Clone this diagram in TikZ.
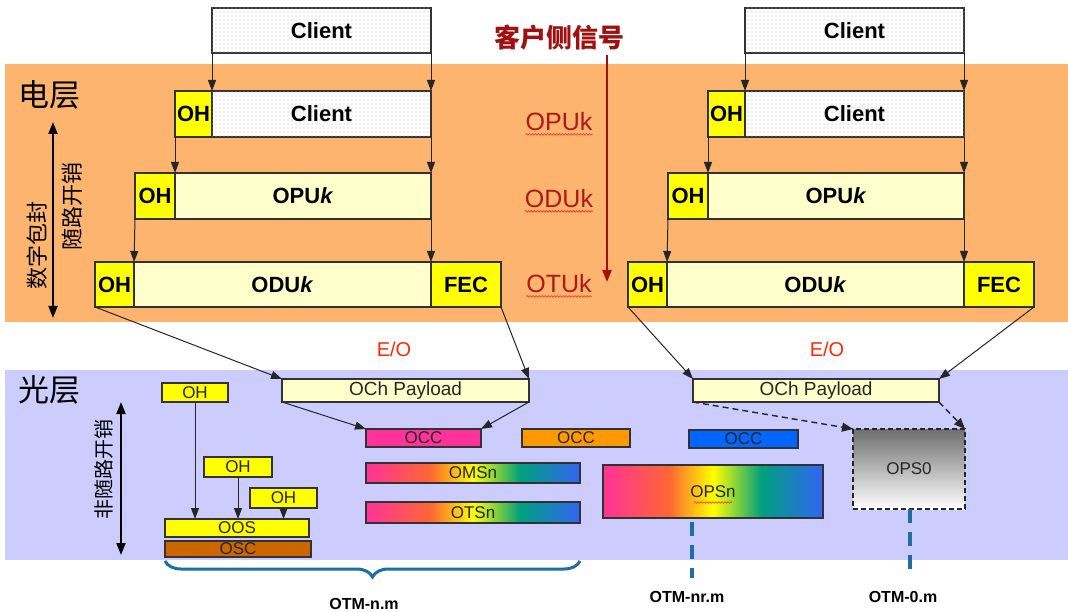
\documentclass[tikz,border=0pt]{standalone}
\usepackage{fontspec}
\setmainfont{Liberation Sans}
\newfontfamily\cjk{Noto Sans CJK SC}
\usetikzlibrary{arrows.meta,patterns,decorations.pathmorphing,decorations.pathreplacing}

\definecolor{elband}{RGB}{253,180,110}
\definecolor{opband}{RGB}{204,204,255}
\definecolor{pale}{RGB}{255,255,204}
\definecolor{ohy}{RGB}{255,255,0}
\definecolor{sigred}{RGB}{160,16,16}
\definecolor{lblred}{RGB}{176,24,24}
\definecolor{eored}{RGB}{255,40,10}
\definecolor{occpink}{RGB}{255,51,153}
\definecolor{occorange}{RGB}{255,153,0}
\definecolor{occblue}{RGB}{0,102,255}
\definecolor{oscbrown}{RGB}{204,102,0}
\definecolor{otmblue}{RGB}{30,110,165}
\definecolor{edge}{RGB}{50,50,50}
\definecolor{rbA}{RGB}{255,51,153}
\definecolor{rbB}{RGB}{255,102,51}
\definecolor{rbC}{RGB}{255,255,0}
\definecolor{rbD}{RGB}{0,160,125}
\definecolor{rbE}{RGB}{50,100,245}

% spectrum fill used by the multiplexed sections
\pgfdeclarehorizontalshading{rainbow}{100bp}{color(0bp)=(rbA); color(25bp)=(rbA);
  color(40bp)=(rbB); color(50bp)=(rbC); color(61bp)=(rbD); color(75bp)=(rbE); color(100bp)=(rbE)}

% sparse dot screen for client data
\pgfdeclarepatternformonly{sparsedots}{\pgfqpoint{-1pt}{-1pt}}{\pgfqpoint{1pt}{1pt}}{\pgfqpoint{4pt}{4pt}}%
  {\pgfpathcircle{\pgfqpoint{0pt}{0pt}}{0.55pt}\pgfusepath{fill}}

% box given by its top-left and bottom-right corners (in px, y downwards)
\newcommand\segbox[6][]{\node[box,#1,anchor=north west,minimum width={#5-#3},minimum height={#6-#4}] (#2) at (#3,#4)}

\tikzset{
  box/.style={draw=edge, line width=1.2pt, inner sep=0pt, outer sep=0pt,
    font=\bfseries\fontsize{22}{24}\selectfont},
  ohfill/.style={fill=ohy},
  palefill/.style={fill=pale},
  client/.style={fill=white, postaction={pattern=sparsedots, pattern color=gray!55}},
  small/.style={font=\fontsize{17}{19}\selectfont, text=black!85},
  pay/.style={palefill, font=\fontsize{19}{21}\selectfont, text=black!85},
  arr/.style={draw=black!85, line width=1pt, -{Triangle[length=11pt,width=8pt]}},
  darr/.style={draw=black!85, line width=1.4pt, dash pattern=on 6pt off 4pt,
    -{Triangle[length=11pt,width=9pt]}},
  dbl/.style={draw=black, line width=2pt, {Triangle[length=12pt,width=9pt]}-{Triangle[length=12pt,width=9pt]}},
  layer/.style={font=\cjk\fontsize{31}{33}\selectfont},
  sidelbl/.style={font=\cjk\fontsize{22}{24}\selectfont, rotate=90},
  redlbl/.style={font=\fontsize{25}{27}\selectfont, text=lblred, inner sep=0pt},
  wavy/.style={draw=red!85, line width=0.6pt, decorate,
    decoration={snake, amplitude=0.8pt, segment length=3pt}},
  eo/.style={font=\fontsize{20}{22}\selectfont, text=eored},
  otm/.style={font=\bfseries\fontsize{16}{18}\selectfont},
  otmline/.style={draw=otmblue, line width=3.5pt, dash pattern=on 14pt off 9pt}
}

\begin{document}
\begin{tikzpicture}[x=1pt,y=-1pt]
\useasboundingbox (0,0) rectangle (1068,612);

% layer bands
\fill[elband] (5,64) rectangle (1068,322);
\fill[opband] (5,370) rectangle (1068,560);

\node[layer] (ellayer) at (50,95) {电层};
\node[layer] (oplayer) at (50,390) {光层};

% digital wrapper: overhead builds up from client to OTUk
\coordinate (elt) at (53,122);
\coordinate (elb) at (53,318);
\draw[dbl] (elt) -- (elb);
\node[sidelbl] (wrap) at (37,246) {数字包封};
\node[sidelbl] (assoc) at (72,207) {随路开销};

\foreach \s/\dx in {L/0,R/533}{
  \begin{scope}[xshift=\dx]
    \segbox[client]{top\s}{212}{8}{431}{53}{Client};
    \segbox[ohfill]{oha\s}{175}{91}{212}{137}{OH};
    \segbox[client]{cli\s}{212}{91}{431}{137}{Client};
    \segbox[ohfill]{ohb\s}{135}{173}{175}{219}{OH};
    \segbox[palefill]{opu\s}{175}{173}{431}{219}{OPU\textit{k}};
    \segbox[ohfill]{ohc\s}{95}{262}{134}{307}{OH};
    \segbox[palefill]{odu\s}{134}{262}{431}{307}{ODU\textit{k}};
    \segbox[ohfill]{fec\s}{431}{262}{501}{307}{FEC};
    \draw[arr] (top\s.south west) -- (cli\s.north west);
    \draw[arr] (top\s.south east) -- (cli\s.north east);
    \draw[arr] (oha\s.south west) -- (opu\s.north west);
    \draw[arr] (cli\s.south east) -- (opu\s.north east);
    \draw[arr] (ohb\s.south west) -- (odu\s.north west);
    \draw[arr] (opu\s.south east) -- (odu\s.north east);
  \end{scope}
}

% client signal direction
\node[font=\cjk\bfseries\fontsize{26}{28}\selectfont, text=sigred] (sig) at (559,38) {客户侧信号};
\coordinate (sigtop) at (607,55);
\coordinate (sigbot) at (607,282);
\draw[draw=sigred, line width=2.2pt, -{Triangle[length=12pt,width=9pt]}] (sigtop) -- (sigbot);

\node[redlbl] (lopu) at (559,122) {OPUk};
\node[redlbl] (lodu) at (559,199) {ODUk};
\node[redlbl] (lotu) at (559,284) {OTUk};
\foreach \n in {lopu,lodu,lotu}{
  \draw[wavy] ([yshift=-3pt]\n.south west) -- ([yshift=-3pt]\n.south east);
}

\node[eo] (eoL) at (394,349) {E/O};
\node[eo] (eoR) at (827,349) {E/O};

% optical channel payloads
\segbox[pay]{payL}{282}{379}{529}{402}{OCh Payload};
\segbox[pay]{payR}{693}{379}{939}{402}{OCh Payload};
\draw[arr] (ohcL.south west) -- (payL.north west);
\draw[arr] (fecL.south east) -- (payL.north east);
\draw[arr] (ohcR.south west) -- (payR.north west);
\draw[arr] (fecR.south east) -- (payR.north east);

% non-associated overhead
\coordinate (opt) at (121,402);
\coordinate (opb) at (121,555);
\draw[dbl] (opt) -- (opb);
\node[sidelbl, font=\cjk\fontsize{20}{22}\selectfont] (nonassoc) at (104,469) {非随路开销};

\segbox[ohfill,small]{ovA}{162}{383}{228}{402}{OH};
\segbox[ohfill,small]{ovB}{204}{457}{272}{477}{OH};
\segbox[ohfill,small]{ovC}{250}{488}{317}{508}{OH};
\segbox[ohfill,small]{oos}{165}{519}{309}{537}{OOS};
\segbox[small,fill=oscbrown]{osc}{165}{541}{311}{557}{OSC};
\draw[arr] (ovA.south) -- (ovA.south |- oos.north);
\draw[arr] (ovB.south) -- (ovB.south |- oos.north);
\draw[arr] (ovC.south) -- (ovC.south |- oos.north);

% optical channel carriers and sections
\segbox[small,fill=occpink]{occA}{366}{429}{481}{447}{OCC};
\segbox[small,fill=occorange]{occB}{522}{429}{630}{447}{OCC};
\segbox[small,fill=occblue]{occC}{689}{430}{798}{448}{OCC};
\draw[arr] (payL.south west) -- (occA.north west);
\draw[arr] (payL.south east) -- (occA.north east);

\segbox[small,shading=rainbow]{oms}{366}{463}{580}{483}{OMSn};
\segbox[small,shading=rainbow]{ots}{366}{502}{580}{523}{OTSn};
\segbox[small,shading=rainbow]{opsn}{603}{465}{823}{518}{OPSn};
\draw[wavy] ([yshift=-2pt]opsn.center) ++(-19pt,-9pt) -- ++(38pt,0);

\segbox[small,top color={rgb,255:red,110;green,110;blue,110},middle color=black!25,bottom color=white,
  draw=black!85, dash pattern=on 5pt off 3pt, line width=1.3pt]{ops}{853}{429}{965}{509}{OPS0};
\draw[darr] (payR.south west) -- (ops.north west);
\draw[darr] (payR.south east) -- (ops.north east);

% interface structures
\coordinate (nrend) at (692,578);
\coordinate (zend) at (910,576);
\draw[otmline] (opsn.south -| nrend) ++(0,4) -- (nrend);
\draw[otmline] (ops.south -| zend) -- (zend);
\draw[draw=otmblue, line width=3pt, decorate, decoration={brace, amplitude=16pt, mirror}]
  (165,561) -- (580,561);

\node[otm] (otmn) at (364,604) {OTM-n.m};
\node[otm] (otmnr) at (687,597) {OTM-nr.m};
\node[otm] (otm0) at (903,597) {OTM-0.m};
\end{tikzpicture}
\end{document}
